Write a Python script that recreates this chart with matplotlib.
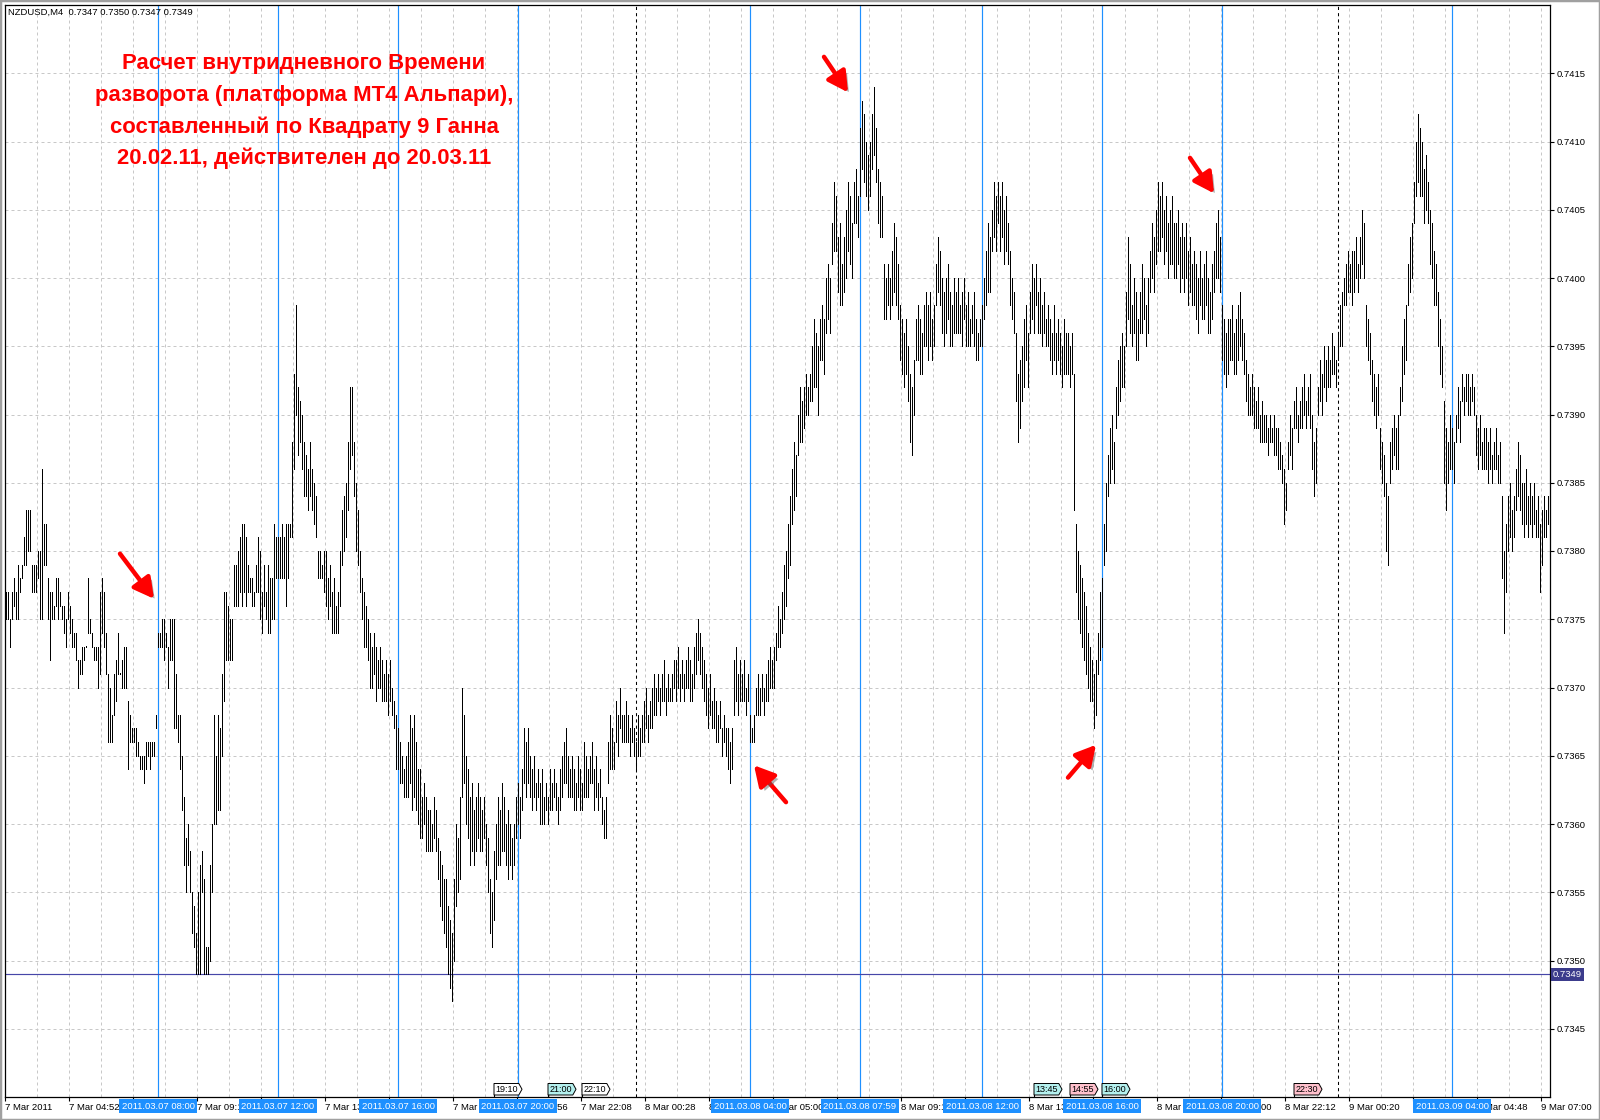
import matplotlib
matplotlib.use('Agg')
import matplotlib.pyplot as plt
import matplotlib.transforms as mtransforms
import matplotlib.patheffects as pe
from matplotlib.patches import Polygon, Rectangle

# ---------------- data ----------------
symbol_info = "NZDUSD,M4  0.7347 0.7350 0.7347 0.7349"
title_lines = ["Расчет внутридневного Времени",
               "разворота (платформа МТ4 Альпари),",
               "составленный по Квадрату 9 Ганна",
               "20.02.11, действителен до 20.03.11"]

price_base = 0.7300          # bar prices = price_base + pips / 10000
high_pips = [
    77,77,75,77,78,77,79,78,79,81, 83,83,83,79,79,79,80,80,86,82,
    82,78,77,77,76,78,78,77,76,76, 75,77,76,75,74,74,72,72,73,73,
    73,78,75,74,73,73,73,77,78,77, 74,71,70,68,71,72,74,71,72,73,
    73,69,68,67,67,67,66,65,65,65, 66,66,66,66,66,68,74,74,75,75,
    74,73,75,75,75,71,68,68,65,62, 59,60,58,55,54,52,55,57,58,56,
    51,51,57,60,68,65,68,67,71,77, 77,76,75,75,79,79,80,81,82,82,
    81,79,78,78,77,79,81,80,77,79, 77,79,78,78,82,81,81,81,82,81,
    82,82,82,88,
    93,98,92,91,90,88,87,86,88,86, 85,84,80,80,79,80,80,78,79,77,
    78,76,77,80,83,84,85,88,92,92, 88,85,83,80,78,77,76,75,74,73,
    74,73,72,73,72,71,72,71,72,70, 69,68,67,66,65,64,65,66,68,67,
    68,66,64,64,62,63,62,61,61,60, 62,61,59,58,57,56,56,54,53,52,
    56,60,59,62,70,68,65,64,62,63, 61,62,63,62,61,62,60,59,56,55,
    58,60,62,61,63,62,60,61,60,59, 60,62,63,62,64,67,66,67,65,
    64,65,63,64,63, 64,62,63,62,64, 63,64,63,62,64, 65,66,67,65,64,
    65,64,63,65,64,63, 66,65,64,65,66, 64,65,63,64, 62,61,62,
    66,68,67,66, 69,68,70,68, 68,69,68,67,68, 67,66,68,67,
    68,69,70,68,69,70, 71,70,71,70,71,72, 70,71,70,71,72,
    72,73,71,72,71, 72,73,72,71,73, 74,75,74,73, 72,71,70,71,69,70,
    69,68,69,67,68,67, 67,66,67, 72,73,71,72, 71,72,70,71, 68,67,68,
    70,71,70,71,70,71, 72,73,72,73, 74,76,75, 77,79,80, 82,84,
    86,88,87, 90,92,91,92, 93,92,93, 95,97,96,95, 97,98,97,
    100,101,100, 104,107,106, 103,104,101,103, 105,107,106,104,
    107,108,106, 111,113,112, 110,109,110, 112,114,111, 108,107,106,
    101,100,101,100, 102,104,103,101, 98,97,96,97, 95,93,92,94,
    97,98,97,96,98, 99,98,99,97,98, 101,103,102, 100,99,100,101,99,98,100,
    99,100,98,99,100, 98,99,97,98,99, 97,96,97,98, 100,102,104,103,
    105,107,106,107, 106,107,105,106,104, 102,100,99, 96,93,94,
    95,97,98,96, 99,101,100,101, 99,100,98,99,97, 98,97,96,98,96,
    97,96,95,97,96, 96,95,96, 93, 82,80,79, 78,77,76, 74,73,72, 71,72,
    74,77,78, 82,85, 87,89,90,88, 92,94,95,96,95, 99,103,101,
    98,100,99,97, 99,101,100,98,100, 102,104,103, 105,107,106,107,
    105,106,104,105,106,104, 104,105,103,104, 103,104,102,103,101,
    102,101,100,102,100, 101,102,100,99,101, 102,104,105,103,
    98,97,96,97, 97,98,96,97, 98,99,97,96, 94,93,92,93,92,
    91,92,90,91,90, 90,89,90,89,90,89, 89,88,87, 86,85, 88,90,89,
    91,92,90,91, 92,93,91,92,93, 90,88,89, 92,94,93,95,94,
    95,94,96,95,94, 96,98,99, 100,101,102,101,102, 102,103,101,
    103,105,104, 98,97,96, 94,93,92,93, 89,88,87, 85,84,
    88,89,90,89,90, 92,95,97,98, 101,103,104, 107,110,112,111,
    110,108,109,107, 105,104,102,101, 99,97,95, 91,89,
    88,90,89,88, 90,92,91, 93,92,93,93,92,93,92, 90,89,90,88,89,
    89,88,89,87, 88,89,87,88, 84,80,82, 84,85,83,84, 86,88,87,85,
    85,86,84,85, 84,85,83,84, 82,83, 84,83,84,
]
low_pips = [
    75,75,73,75,76,75,75,77,78,79, 79,80,80,77,77,77,78,75,75,79,
    79,75,72,75,75,76,75,76,75,74, 73,75,74,73,73,72,70,71,71,72,
    73,74,74,73,72,72,70,71,74,73, 71,66,66,66,68,69,71,71,70,70,
    70,64,66,66,66,65,65,64,64,63, 64,65,64,65,65,67,73,73,73,72,
    73,70,72,72,67,67,66,64,61,57, 55,57,55,52,51,49,49,49,55,49,
    49,49,50,55,60,60,61,61,65,69, 72,72,72,72,76,76,76,77,76,77,
    76,77,77,76,76,77,77,75,74,76, 75,74,74,75,75,78,78,78,78,78,
    76,78,81,81,
    86,90,87,88,86,84,84,83,84,83, 82,81,78,78,78,77,76,75,76,74,
    74,74,74,76,79,80,81,83,86,87, 84,80,79,77,75,73,73,72,70,70,
    71,69,70,70,69,69,69,68,69,68, 67,64,64,63,63,62,62,62,63,61,
    62,61,60,59,59,60,58,58,58,58, 59,58,56,54,53,52,51,49,48,47,
    50,54,55,56,62,63,60,59,57,58, 57,58,59,58,58,59,57,55,52,51,
    53,56,57,57,58,58,57,56,57,56, 57,59,60,59,61,63,62,63,62,
    61,62,61,62,60, 60,60,61,60,61, 61,62,61,60,61, 62,63,63,62,62,
    62,61,61,62,61,61, 62,62,62,63,63, 61,62,61,62, 60,59,59,
    63,64,64,64, 66,65,67,66, 66,66,66,65,66, 65,64,65,65,
    66,66,67,66,67,67, 68,68,69,68,69,69, 68,69,69,69,70,
    69,70,69,70,69, 70,70,69,69,70, 71,72,71,70, 69,68,67,68,67,67,
    66,66,67,65,66,65, 64,63,64, 68,69,68,69, 69,69,68,69, 66,66,66,
    68,68,68,69,68,69, 69,70,70,70, 72,73,73, 74,75,76, 78,79,
    82,83,84, 87,88,88,89, 90,90,91, 91,92,92,90, 94,94,93,
    96,97,96, 101,102,102, 99,98,98,99, 100,102,101,100,
    104,104,103, 106,108,107, 106,105,106, 108,109,107, 104,103,103,
    97,97,98,97, 98,99,98,97, 94,93,92,93, 91,88,87,90,
    94,94,93,93,95, 95,94,95,94,95, 98,99,98, 96,95,96,97,95,95,96,
    96,96,96,95,97, 95,95,95,96,95, 94,94,95,95, 97,98,99,99,
    102,103,102,104, 102,103,101,102,101, 98,97,96, 91,88,89,
    91,92,94,92, 96,97,96,98, 96,96,95,96,95, 95,94,93,94,93,
    94,93,92,93,93, 93,92,93, 83, 77,75,74, 73,72,71, 70,69,69, 67,68,
    71,72,73, 79,80, 84,85,86,85, 89,90,91,92,92, 95,97,96,
    95,96,94,94, 96,96,97,95,96, 99,100,99, 101,102,102,103,
    101,102,100,101,101,100, 100,101,99,100, 99,100,98,99,98,
    98,97,96,98,97, 97,98,96,96,97, 99,100,100,99,
    94,93,92,93, 94,94,93,93, 94,95,94,93, 91,90,90,90,89,
    89,89,88,88,88, 88,87,88,88,87,87, 86,86,85, 82,83, 86,87,86,
    89,89,88,89, 89,90,89,90,89, 86,84,85, 90,91,90,92,91,
    92,92,93,93,92, 94,95,95, 98,98,99,99,98, 99,100,99,
    100,101,100, 95,94,93, 91,90,89,90, 86,85,84, 80,79,
    85,86,87,86,86, 90,91,93,94, 98,99,100, 104,106,107,106,
    106,104,105,104, 101,100,98,98, 95,93,92, 85,83,
    85,86,86,85, 88,89,88, 91,90,91,90,90,91,90, 87,86,87,86,86,
    86,85,86,85, 86,86,85,85, 78,74,77, 80,81,80,81, 83,84,83,82,
    81,82,81,82, 81,82,81,81, 77,79, 81,81,82,
]
current_price = 0.7349
price_ticks = [0.7345, 0.7350, 0.7355, 0.7360, 0.7365, 0.7370, 0.7375, 0.7380,
               0.7385, 0.7390, 0.7395, 0.7400, 0.7405, 0.7410, 0.7415]

# time scale labels; "" where MT4's label is completely hidden by a date box
time_tick_bars = [0, 32, 64, 96, 128, 160, 192, 224, 256, 288, 320, 352, 384,
                  416, 448, 480, 512, 544, 576, 608, 640, 672, 704, 736, 768]
time_tick_labels = ["7 Mar 2011", "7 Mar 04:52", "", "7 Mar 09:12",
                    "", "7 Mar 13:28", "", "7 Mar 17:44",
                    "7 Mar 19:56", "7 Mar 22:08", "8 Mar 00:28", "8 Mar 02:48",
                    "8 Mar 05:00", "", "8 Mar 09:16", "",
                    "8 Mar 13:32", "", "8 Mar 17:48", "8 Mar 20:00",
                    "8 Mar 22:12", "9 Mar 00:20", "", "9 Mar 04:48",
                    "9 Mar 07:00"]

turn_bars = [76, 136, 196, 256, 372, 427, 488, 548, 608, 723]
turn_labels = ["2011.03.07 08:00", "2011.03.07 12:00", "2011.03.07 16:00",
               "2011.03.07 20:00", "2011.03.08 04:00", "2011.03.08 07:59",
               "2011.03.08 12:00", "2011.03.08 16:00", "2011.03.08 20:00",
               "2011.03.09 04:00"]
day_sep_bars = [315, 666]

event_bars = [244, 271, 288, 514, 532, 548, 644]
event_labels = ["19:10", "21:00", "22:10", "13:45", "14:55", "16:00", "22:30"]
event_colors = ["#ffffff", "#b4f0ee", "#ffffff", "#b4f0ee", "#ffc0cc", "#b4f0ee", "#ffc0cc"]

# annotation arrows (tail -> head) in (bar, price)
arrows = [((57, 0.73798), (74, 0.73765)),
          ((409, 0.74162), (421, 0.74136)),
          ((592, 0.74088), (604, 0.74062)),
          ((390, 0.73616), (374, 0.73643)),
          ((531, 0.73634), (545, 0.73658))]

# ---------------- drawing ----------------
W, H = 1600, 1120
fig = plt.figure(figsize=(W / 100, H / 100), dpi=100)
fig.patch.set_facecolor('white')
L, R, T, B = 5, 1550, 5, 1097
ax = fig.add_axes([L / W, (H - B) / H, (R - L) / W, (B - T) / H])
ax.set_facecolor('white')

N = min(len(high_pips), len(low_pips))
xs = list(range(N))
highs = [price_base + h / 10000 for h in high_pips[:N]]
lows = [price_base + l / 10000 for l in low_pips[:N]]
tops = [h if h > l else h + 0.000004 for h, l in zip(highs, lows)]
bots = [l if h > l else l - 0.000004 for h, l in zip(highs, lows)]

ax.set_xlim(-0.5, 772.0)
ax.set_ylim(0.7340, 0.7420)

grid_kw = dict(color='#c8c8c8', lw=0.72, ls=(0, (3, 3)), zorder=0)
for p in price_ticks:
    ax.axhline(p, **grid_kw)
for m in range(1, 49):
    ax.axvline(16 * m - 0.5, **grid_kw)

# turning-time lines and day separators
for b in turn_bars:
    ax.axvline(b, color='#1e90ff', lw=0.85, zorder=1)
for b in day_sep_bars:
    ax.axvline(b, color='black', lw=0.75, ls=(0, (3, 3)), zorder=1)

ax.axhline(current_price, color='#4646a8', lw=0.85, zorder=1)

ax.vlines(xs, bots, tops, colors='black', linewidths=0.72, antialiased=False, zorder=3)

# axes styling
for s in ax.spines.values():
    s.set_color('black')
    s.set_linewidth(0.9)
ax.yaxis.tick_right()
ax.set_yticks(price_ticks)
ax.set_yticklabels([f"{p:.4f}" for p in price_ticks])
ax.set_xticks([b - 0.5 for b in time_tick_bars])
ax.set_xticklabels(time_tick_labels)
ax.tick_params(axis='y', direction='out', length=3, width=0.8, pad=1.5,
               labelsize=6.8, colors='black')
ax.tick_params(axis='x', direction='out', length=3, width=0.8, pad=1.5,
               labelsize=6.8, colors='black')
for lbl in ax.get_xticklabels() + ax.get_yticklabels():
    lbl.set_family('Liberation Sans')
for lbl in ax.get_xticklabels():
    lbl.set_horizontalalignment('left')

bt = mtransforms.blended_transform_factory(ax.transData, ax.transAxes)
bt_y = mtransforms.blended_transform_factory(ax.transAxes, ax.transData)

# blue date boxes under the axis (they cover parts of the time labels, as in MT4)
for b, lab in zip(turn_bars, turn_labels):
    ax.text(b, -0.0085, lab, transform=bt, ha='center', va='center',
            fontsize=6.8, family='Liberation Sans', color='white', zorder=20,
            clip_on=False,
            bbox=dict(boxstyle='square,pad=0.25', fc='#1e90ff', ec='none'))

# current price label
ax.text(1.002, current_price, f"{current_price:.4f}", transform=bt_y,
        ha='left', va='center', fontsize=6.8, family='Liberation Sans',
        color='white', zorder=20, clip_on=False,
        bbox=dict(boxstyle='square,pad=0.2', fc='#3c3c8c', ec='none'))

# event tags at the bottom of the plot
ah = B - T
tag_w, tag_tip = 14.0, 1.6
y0, th = 2.0 / ah, 11.5 / ah
for b, lab, col in zip(event_bars, event_labels, event_colors):
    verts = [(b, y0), (b + tag_w - tag_tip, y0), (b + tag_w, y0 + th / 2),
             (b + tag_w - tag_tip, y0 + th), (b, y0 + th)]
    ax.add_patch(Polygon(verts, closed=True, transform=bt, fc=col, ec='black',
                         lw=0.7, zorder=6))
    ax.plot([b, b], [0, y0], transform=bt, color='black', lw=0.8, zorder=6)
    ax.text(b + (tag_w - tag_tip) / 2, y0 + th / 2, lab, transform=bt,
            ha='center', va='center', fontsize=6.5, family='Liberation Sans',
            color='black', zorder=7)

# symbol info
fig.text(8 / W, 1 - 12 / H, symbol_info, ha='left', va='center', fontsize=6.8,
         family='Liberation Sans', color='black')

# red title text
cx = 304 / W
ys = [63, 95, 127, 158]
t0 = fig.text(cx, 1 - ys[0] / H, title_lines[0], ha='center', va='center',
              fontsize=16, family='Liberation Sans', weight='bold', color='red')
fig.canvas.draw()
w0 = t0.get_window_extent().width
fs = 16 * 363.0 / w0
t0.set_fontsize(fs)
for line, yy in zip(title_lines[1:], ys[1:]):
    fig.text(cx, 1 - yy / H, line, ha='center', va='center', fontsize=fs,
             family='Liberation Sans', weight='bold', color='red')

# red arrows
for tail, head in arrows:
    ann = ax.annotate('', xy=head, xytext=tail, zorder=15,
                      arrowprops=dict(arrowstyle='-|>,head_length=0.55,head_width=0.3',
                                      lw=3.2, color='#ff0000', shrinkA=0, shrinkB=0,
                                      mutation_scale=22))
    ann.arrow_patch.set_path_effects([
        pe.SimplePatchShadow(offset=(2.5, -2.5), shadow_rgbFace='#555555', alpha=0.45),
        pe.Normal()])

# window frame
fig.add_artist(Rectangle((0, 0), 1, 1, transform=fig.transFigure, fill=False,
                         ec='#a0a0a0', lw=2.5))

fig.savefig('out.png', dpi=100, facecolor='white')
